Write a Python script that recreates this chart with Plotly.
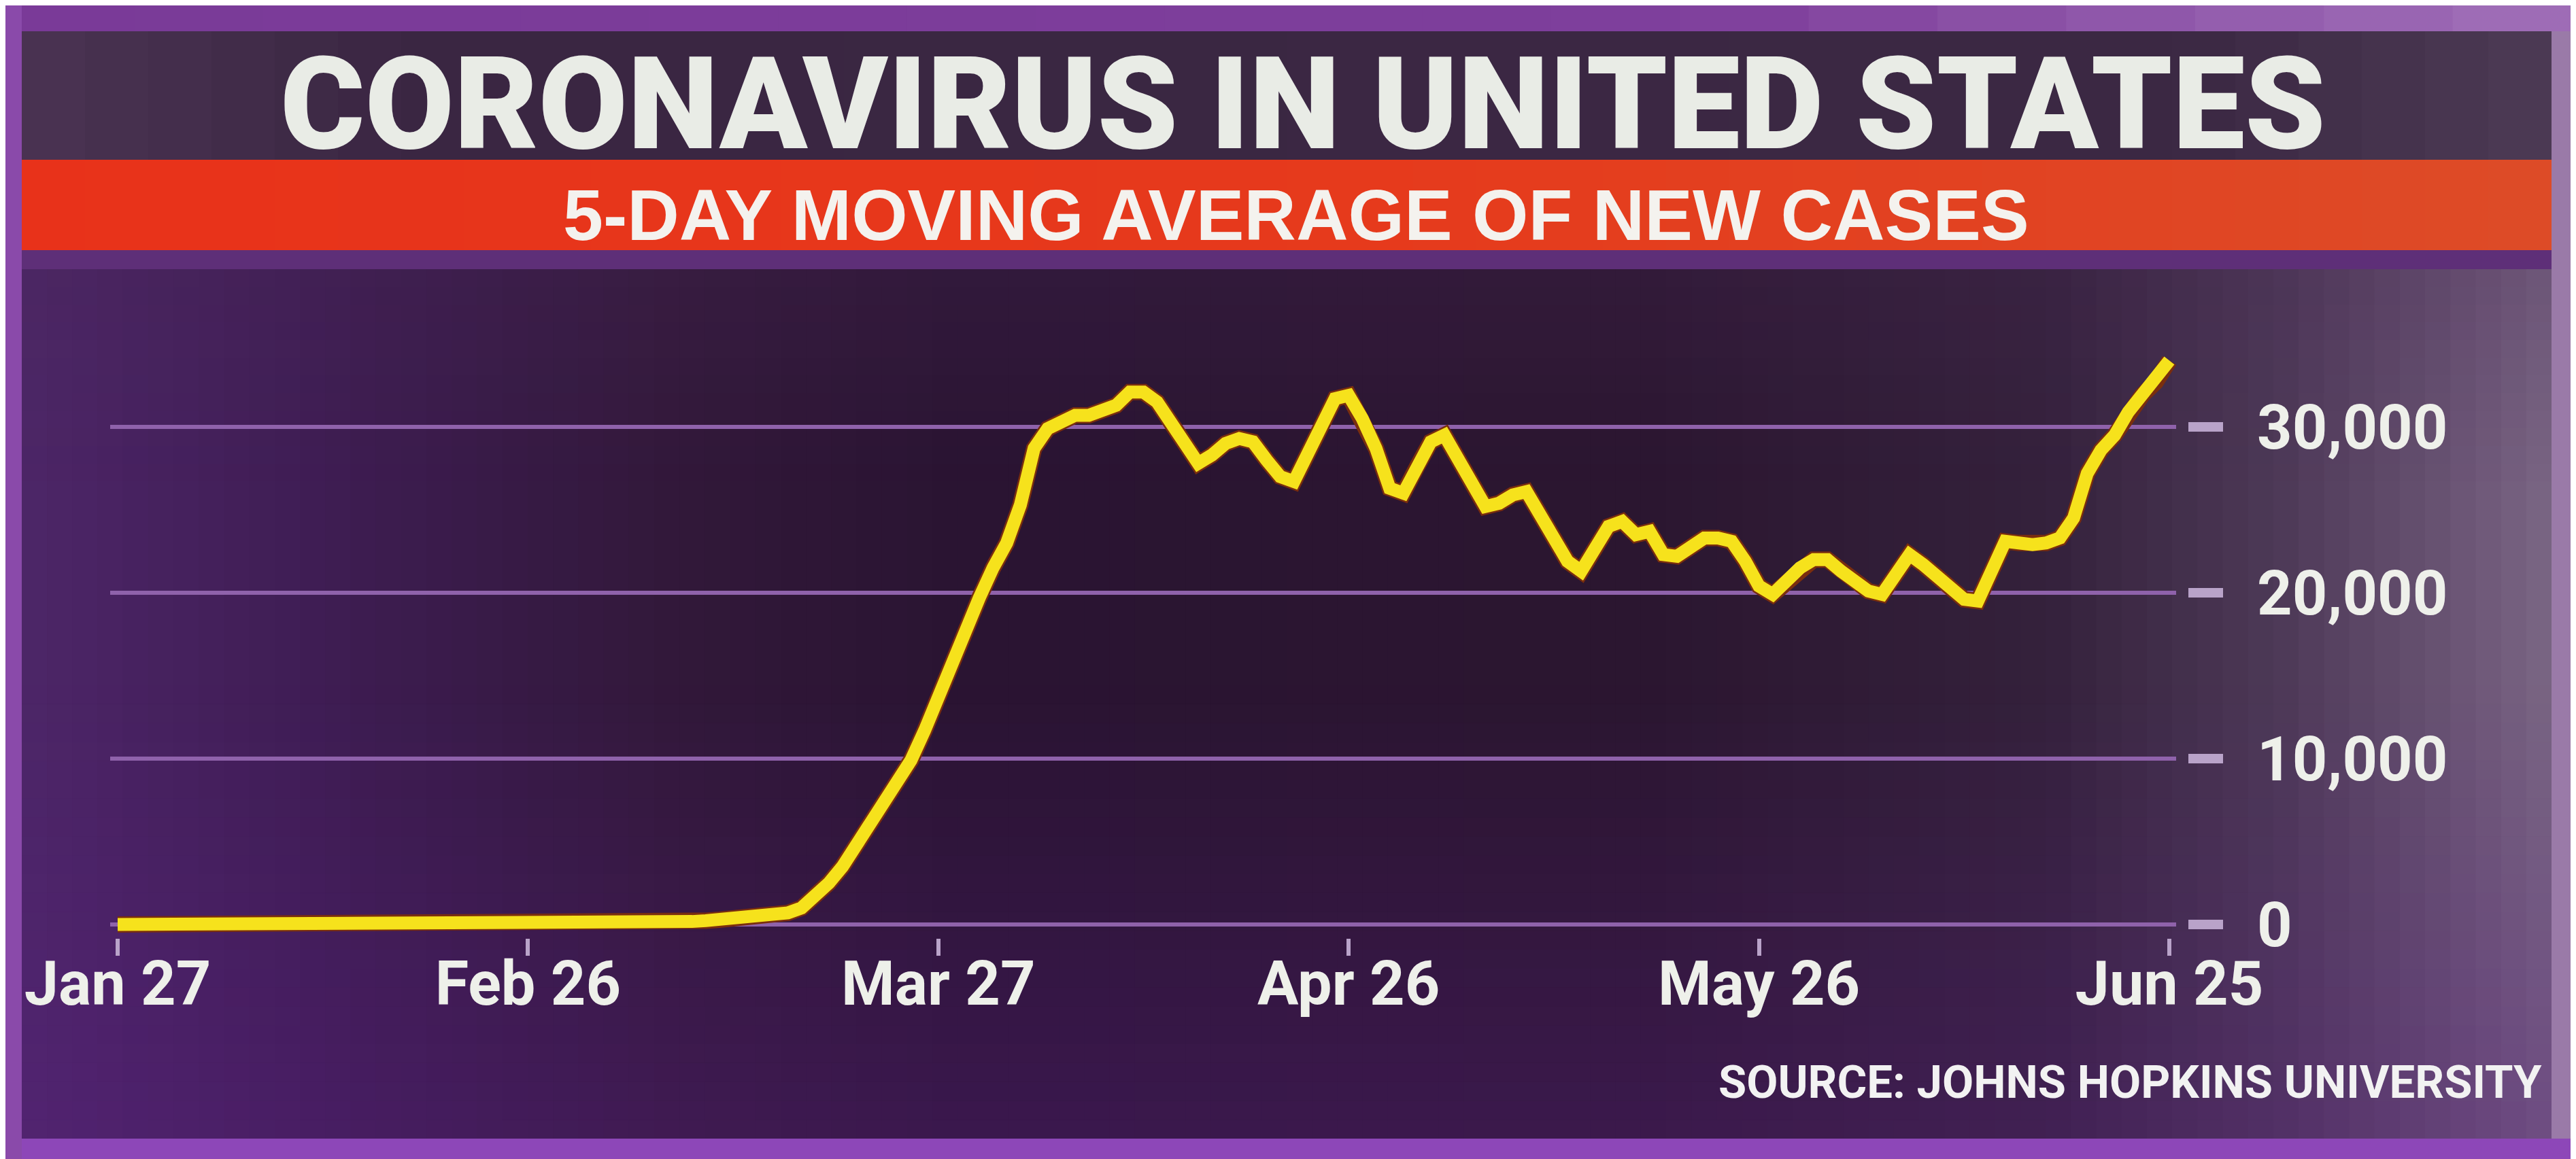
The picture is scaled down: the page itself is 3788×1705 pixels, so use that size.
import pandas as pd
import plotly.graph_objects as go

# ---------------- data (5-day moving average of new US cases) ----------------
start_date = "2020-01-27"
jan_values = [0, 0, 0, 0, 0]                                   # Jan 27 - Jan 31
feb_values = [0] * 29                                          # Feb 1 - Feb 29
mar_values = [5, 10, 15, 25, 40, 60, 90, 130, 180, 230, 290, 350, 400, 450,
              530, 700, 1000, 1700, 2500, 3500, 4800, 6200, 7500, 8600, 9900,
              11700, 13800, 15800, 17700, 19700, 21500]        # Mar 1 - Mar 31
apr_values = [23000, 25300, 28700, 29900, 30400, 30700, 30700, 30900, 31300,
              32100, 32100, 31500, 30300, 28900, 27800, 28300, 29000, 29300,
              29100, 28000, 27000, 26700, 28400, 30200, 31700, 31900, 30500,
              28700, 26300, 26000]                             # Apr 1 - Apr 30
may_values = [27600, 29100, 29500, 28100, 26600, 25200, 25400, 25900, 26100,
              24700, 23300, 21900, 21300, 22800, 24000, 24300, 23500, 23700,
              22300, 22200, 22700, 23300, 23300, 23100, 21900, 20400, 19900,
              20700, 21500, 22000, 22000]                      # May 1 - May 31
jun_values = [21300, 20600, 20100, 19900, 21100, 22300, 21700, 21000, 20300,
              19600, 19500, 21500, 23100, 23000, 22900, 23000, 23300, 24500,
              27200, 28600, 29500, 30900, 31900, 32700, 34000] # Jun 1 - Jun 25

values = jan_values + feb_values + mar_values + apr_values + may_values + jun_values
dates = pd.date_range(start_date, periods=len(values), freq="D")

x_tick_dates = ["2020-01-27", "2020-02-26", "2020-03-27", "2020-04-26", "2020-05-26", "2020-06-25"]
x_tick_labels = ["Jan 27", "Feb 26", "Mar 27", "Apr 26", "May 26", "Jun 25"]
y_tick_values = [0, 10000, 20000, 30000]
y_tick_labels = ["0", "10,000", "20,000", "30,000"]

title_text = "CORONAVIRUS IN UNITED STATES"
subtitle_text = "5-DAY MOVING AVERAGE OF NEW CASES"
source_text = "SOURCE: JOHNS HOPKINS UNIVERSITY"

# ---------------- layout geometry (pixels) ----------------
W, H = 3788, 1705
L, R, T, B = 154, 3209, 430, 1372          # paper box
PLOT_RIGHT = 3192                           # end of gridlines


def px_x(x):
    return (x - L) / (R - L)


def px_y(y):
    return (B - y) / (B - T)


def hex2rgb(h):
    h = h.lstrip("#")
    return tuple(int(h[i:i + 2], 16) for i in (0, 2, 4))


def lerp_color(stops, x):
    for (x0, c0), (x1, c1) in zip(stops[:-1], stops[1:]):
        if x0 <= x <= x1:
            t = 0 if x1 == x0 else (x - x0) / (x1 - x0)
            a, b = hex2rgb(c0), hex2rgb(c1)
            return "rgb(%d,%d,%d)" % tuple(round(a[i] + (b[i] - a[i]) * t) for i in range(3))
    return stops[-1][1]


shapes = []


def rect(x0, y0, x1, y1, color, opacity=1.0):
    shapes.append(dict(type="rect", xref="paper", yref="paper",
                       x0=px_x(x0), x1=px_x(x1), y0=px_y(y1), y1=px_y(y0),
                       fillcolor=color, opacity=opacity, line=dict(width=0),
                       layer="below"))


def hgrad(x0, y0, x1, y1, stops, n=60):
    step = (x1 - x0) / n
    for i in range(n):
        xa = x0 + i * step
        rect(xa, y0, min(xa + step + 1, x1), y1, lerp_color(stops, xa + step / 2))


def vfade(x0, y0, x1, y1, color, op0, op1, n=24):
    step = (y1 - y0) / n
    for i in range(n):
        ya = y0 + i * step
        op = op0 + (op1 - op0) * (i + 0.5) / n
        rect(x0, ya, x1, ya + step, color, op)


# background pieces
rect(0, 0, W, H, "#7a3a99")
hgrad(0, 0, W, 38, [(0, "#7a3a98"), (2500, "#7e3f9c"), (W, "#a070b8")], 20)
hgrad(24, 38, 3744, 227, [(24, "#4a3352"), (600, "#3a2642"), (3200, "#3b2843"), (3744, "#4d3b55")], 40)
hgrad(24, 227, 3744, 360, [(24, "#e8321a"), (2000, "#e63a1c"), (3744, "#dd4b27")], 40)
rect(24, 360, 3744, 388, "#5e2f78")
hgrad(24, 388, 3744, 1667, [(24, "#4d2668"), (450, "#3f1d54"), (1000, "#311839"),
                            (1400, "#2a1432"), (2400, "#2b1630"), (3000, "#34213b"),
                            (3350, "#4e3a58"), (3600, "#6a5474"), (3744, "#7a6684")], 100)
vfade(24, 1000, 3744, 1667, "#5a1f82", 0.0, 0.35)
vfade(24, 388, 3744, 700, "#4a2a58", 0.25, 0.0, 12)
rect(0, 1667, W, H, "#8d47b8")
rect(0, 0, 24, H, "#8a4aaa")
rect(3744, 38, W, 1667, "#9a7aa8")

# ---------------- figure ----------------
fig = go.Figure()
fig.add_trace(go.Scatter(x=dates, y=values, mode="lines",
                         line=dict(color="#7a2e0e", width=24),
                         hoverinfo="skip", showlegend=False))
fig.add_trace(go.Scatter(x=dates, y=values, mode="lines",
                         line=dict(color="#f6e21c", width=19),
                         showlegend=False))

day_px = (3182 - 165) / 150.0
x_start = pd.Timestamp("2020-01-27") - pd.Timedelta(hours=24 * (165 - L) / day_px)
x_end = pd.Timestamp("2020-06-25") + pd.Timedelta(hours=24 * (PLOT_RIGHT - 3182) / day_px)

px_per_unit = 24.4 / 1000.0
y_min = -(B - 1352) / px_per_unit
y_max = (1352 - T) / px_per_unit

font_family = "Roboto, Liberation Sans, Arial, sans-serif"
wide_family = "Liberation Sans, Arial, sans-serif"
text_color = "#eef0ea"
tick_color = "#b9a3c9"

fig.update_layout(
    width=W, height=H, autosize=False,
    margin=dict(l=L, r=W - R, t=T, b=H - B, pad=0),
    paper_bgcolor="#7a3a99",
    plot_bgcolor="rgba(0,0,0,0)",
    shapes=shapes,
    showlegend=False,
    xaxis=dict(
        type="date", domain=[0, (PLOT_RIGHT - L) / (R - L)],
        range=[x_start, x_end], showgrid=False, zeroline=False,
        tickvals=x_tick_dates, ticktext=x_tick_labels,
        ticks="outside", ticklen=25, tickwidth=6, tickcolor=tick_color,
        ticklabelstandoff=-36, ticklabeloverflow="allow",
        tickfont=dict(family=font_family, size=90, color=text_color, weight="bold"),
        showline=False, fixedrange=True,
    ),
    yaxis=dict(
        anchor="free", position=1, side="right",
        range=[y_min, y_max], showgrid=True, gridcolor="#8f62ab", gridwidth=6,
        zeroline=False, tickvals=y_tick_values, ticktext=y_tick_labels,
        ticks="outside", ticklen=51, tickwidth=14, tickcolor=tick_color,
        ticklabelstandoff=32, ticklabeloverflow="allow",
        tickfont=dict(family=font_family, size=90, color=text_color, weight="bold"),
        showline=False, fixedrange=True,
    ),
    annotations=[
        dict(text=title_text, xref="paper", yref="paper",
             x=px_x(1908), y=px_y(145), xanchor="center", yanchor="middle",
             showarrow=False,
             font=dict(family=font_family, size=190, color="#e9ece6", weight=900)),
        dict(text=subtitle_text, xref="paper", yref="paper",
             x=px_x(1898), y=px_y(308), xanchor="center", yanchor="middle",
             showarrow=False,
             font=dict(family=wide_family, size=106, color="#f4f2ee", weight="bold")),
        dict(text=source_text, xref="paper", yref="paper",
             x=px_x(3732), y=px_y(1584), xanchor="right", yanchor="middle",
             showarrow=False,
             font=dict(family=font_family, size=67, color="#f2f2f2", weight="bold")),
    ],
)

fig.write_html("out.html")
